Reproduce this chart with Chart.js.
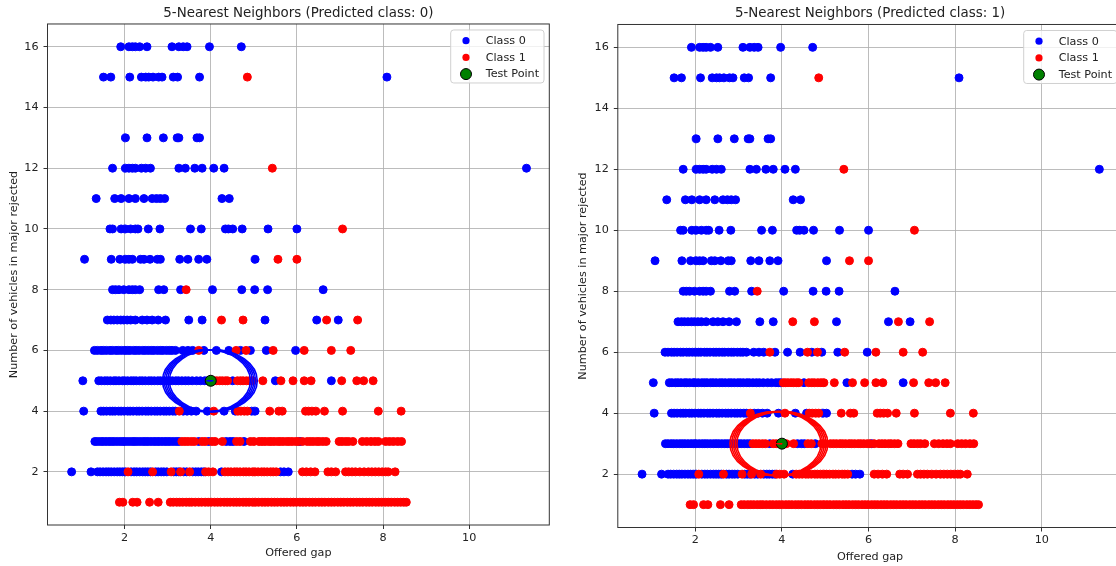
<!DOCTYPE html>
<html>
<head>
<meta charset="utf-8">
<script src="https://cdn.jsdelivr.net/npm/chart.js@4.4.1/dist/chart.umd.min.js"></script>
<style>
html, body { margin: 0; padding: 0; background: #fff; overflow: hidden; width: 1116px; height: 566px; }
.panel { position: absolute; top: 0; }
</style>
</head>
<body>
<div class="panel" style="left:0"><canvas id="leftChart" width="558" height="566"></canvas></div>
<div class="panel" style="left:570px"><canvas id="rightChart" width="562" height="566"></canvas></div>
<script>
// offered gap values of class 0 (blue), one array per "vehicles rejected" level
const class0Gap16 = [1.91, 2.10, 2.18, 2.25, 2.35, 2.52, 3.10, 3.26, 3.36, 3.45, 3.97, 4.71];
const class0Gap15 = [1.51, 1.68, 2.12, 2.39, 2.49, 2.56, 2.66, 2.79, 2.87, 3.13, 3.23, 3.74, 8.09];
const class0Gap13 = [2.02, 2.52, 2.90, 3.22, 3.26, 3.68, 3.74];
const class0Gap12 = [1.72, 2.02, 2.10, 2.18, 2.25, 2.39, 2.49, 2.60, 3.26, 3.41, 3.63, 3.80, 4.07, 4.31, 11.33];
const class0Gap11 = [1.34, 1.77, 1.92, 2.10, 2.25, 2.45, 2.64, 2.74, 2.83, 2.93, 4.26, 4.43];
const class0Gap10 = [1.66, 1.72, 1.92, 2.02, 2.14, 2.25, 2.31, 2.55, 2.82, 3.53, 3.78, 4.34, 4.41, 4.51, 4.73, 5.33, 6.00];
const class0Gap9 = [1.07, 1.69, 1.89, 2.02, 2.10, 2.18, 2.37, 2.45, 2.59, 2.76, 2.83, 3.28, 3.47, 3.72, 3.91, 5.03];
const class0Gap8 = [1.72, 1.79, 1.87, 1.98, 2.10, 2.18, 2.25, 2.35, 2.79, 2.91, 3.30, 4.04, 4.72, 5.02, 5.32, 6.61];
const class0Gap7 = [1.60, 1.68, 1.75, 1.83, 1.91, 1.98, 2.06, 2.14, 2.25, 2.41, 2.52, 2.64, 2.78, 2.95, 3.49, 3.80, 5.26, 6.46, 6.96];
const class0Gap6 = [1.30, 1.37, 1.45, 1.51, 1.58, 1.66, 1.72, 1.80, 1.86, 1.93, 2.01, 2.07, 2.13, 2.21, 2.27, 2.34, 2.42, 2.48,
  2.55, 2.62, 2.68, 2.76, 2.83, 2.89, 2.97, 3.04, 3.10, 3.18, 3.35, 3.47, 3.58, 3.84, 4.13, 4.42, 4.69, 4.92, 5.29, 5.97];
const class0Gap5 = [1.03, 1.40, 1.46, 1.54, 1.60, 1.67, 1.75, 1.80, 1.87, 1.95, 2.00, 2.07, 2.15, 2.21, 2.27, 2.35, 2.41, 2.48,
  2.56, 2.62, 2.69, 2.77, 2.83, 2.90, 2.98, 3.04, 3.11, 3.19, 3.25, 3.33, 3.41, 3.48, 3.57, 3.67, 3.76, 3.86, 3.92, 3.97,
  4.51, 5.50, 6.80];
const class0Gap4 = [1.05, 1.45, 1.51, 1.58, 1.66, 1.72, 1.78, 1.86, 1.92, 1.99, 2.07, 2.13, 2.20, 2.28, 2.34, 2.41, 2.49, 2.55,
  2.62, 2.70, 2.76, 2.83, 2.91, 2.97, 3.04, 3.12, 3.18, 3.36, 3.45, 3.55, 3.66, 3.92, 4.31, 4.57, 4.95, 5.03];
const class0Gap3 = [1.31, 1.37, 1.44, 1.50, 1.57, 1.64, 1.70, 1.76, 1.83, 1.90, 1.96, 2.02, 2.09, 2.16, 2.22, 2.28, 2.35, 2.42,
  2.48, 2.54, 2.61, 2.68, 2.74, 2.80, 2.87, 2.94, 3.00, 3.06, 3.13, 3.20, 3.26, 3.72, 3.95, 4.36, 4.45, 4.52, 4.77, 6.07];
const class0Gap2 = [0.77, 1.22, 1.37, 1.43, 1.50, 1.57, 1.63, 1.69, 1.76, 1.83, 1.89, 1.95, 2.02, 2.15, 2.22, 2.28, 2.35, 2.42,
  2.48, 2.54, 2.60, 2.72, 2.78, 2.85, 2.91, 2.98, 3.14, 3.20, 3.26, 3.37, 3.44, 3.58, 3.65, 3.71, 3.78, 3.84, 4.25,
  5.62, 5.70, 5.80];

// offered gap values of class 1 (red)
const class1Gap15 = [4.85];
const class1Gap12 = [5.43];
const class1Gap10 = [7.06];
const class1Gap9 = [5.56, 6.00];
const class1Gap8 = [3.43];
const class1Gap7 = [4.25, 4.75, 6.69, 7.41];
const class1Gap6 = [3.72, 4.59, 4.82, 5.45, 6.17, 6.80, 7.25];
const class1Gap5 = [4.03, 4.08, 4.14, 4.21, 4.27, 4.34, 4.39, 4.62, 4.69, 4.75, 4.83, 4.90, 4.97, 5.21, 5.63, 5.91, 6.17,
  6.33, 7.04, 7.39, 7.55, 7.77];
const class1Gap4 = [3.27, 4.07, 4.63, 4.70, 4.78, 4.85, 5.37, 5.58, 5.66, 6.20, 6.27, 6.35, 6.44, 6.64, 7.06, 7.89, 8.42];
const class1Gap3 = [3.33, 3.40, 3.47, 3.55, 3.62, 3.80, 3.87, 4.03, 4.10, 4.27, 4.60, 4.68, 4.92, 5.00, 5.12, 5.19, 5.26,
  5.34, 5.40, 5.47, 5.55, 5.61, 5.68, 5.76, 5.82, 5.89, 5.97, 6.03, 6.13, 6.24, 6.31, 6.38, 6.46, 6.52, 6.60, 6.68, 6.98,
  7.05, 7.13, 7.20, 7.30, 7.52, 7.62, 7.72, 7.81, 7.89, 8.06, 8.15, 8.24, 8.34, 8.43];
const class1Gap2 = [2.08, 2.65, 3.08, 3.30, 3.51, 3.88, 3.95, 4.05, 4.33, 4.40, 4.47, 4.55, 4.61, 4.68, 4.76, 4.82, 4.89,
  4.97, 5.03, 5.10, 5.18, 5.24, 5.31, 5.39, 5.45, 5.52, 6.13, 6.22, 6.32, 6.42, 6.72, 6.80, 6.90, 7.13, 7.20, 7.28, 7.36,
  7.46, 7.56, 7.66, 7.74, 7.82, 7.90, 7.98, 8.06, 8.12, 8.28];
const class1Gap1 = [1.88, 1.96, 2.19, 2.29, 2.58, 2.78, 3.06, 3.13, 3.21, 3.28, 3.35, 3.43, 3.50, 3.56, 3.64, 3.72, 3.79,
  3.87, 3.94, 4.01, 4.09, 4.16, 4.23, 4.31, 4.38, 4.45, 4.53, 4.60, 4.67, 4.75, 4.82, 4.89, 4.97, 5.04, 5.11, 5.19, 5.26,
  5.33, 5.41, 5.48, 5.55, 5.63, 5.70, 5.77, 5.85, 5.92, 5.99, 6.07, 6.14, 6.21, 6.29, 6.36, 6.43, 6.51, 6.58, 6.65, 6.73,
  6.80, 6.87, 6.95, 7.02, 7.09, 7.17, 7.24, 7.31, 7.39, 7.46, 7.53, 7.61, 7.68, 7.75, 7.83, 7.90, 7.97, 8.05, 8.12, 8.19,
  8.27, 8.34, 8.41, 8.48, 8.54];

const class0Rows = [[16, class0Gap16], [15, class0Gap15], [13, class0Gap13], [12, class0Gap12], [11, class0Gap11],
  [10, class0Gap10], [9, class0Gap9], [8, class0Gap8], [7, class0Gap7], [6, class0Gap6], [5, class0Gap5],
  [4, class0Gap4], [3, class0Gap3], [2, class0Gap2]];
const class1Rows = [[15, class1Gap15], [12, class1Gap12], [10, class1Gap10], [9, class1Gap9], [8, class1Gap8],
  [7, class1Gap7], [6, class1Gap6], [5, class1Gap5], [4, class1Gap4], [3, class1Gap3], [2, class1Gap2], [1, class1Gap1]];

// test points and their 5 nearest neighbours
const testLeft = [4, 5];
const neighborsLeftX = [3.90, 3.94, 3.98, 4.02, 4.06];
const neighborsLeftY = [5, 5, 5, 5, 5];
const testRight = [4, 3];
const neighborsRightX = [3.85, 3.89, 3.93, 3.97, 4.01];
const neighborsRightY = [3, 3, 3, 3, 3];

const xTickValues = [2, 4, 6, 8, 10];
const yTickValues = [2, 4, 6, 8, 10, 12, 14, 16];

const FONT = "'DejaVu Sans', sans-serif";
const TEXT = '#222';

function toPoints(rows) {
    let pts = [];
    rows.forEach(function (row) {
        row[1].forEach(function (gap) { pts.push({x: gap, y: row[0]}); });
    });
    return pts;
}

// circles round the neighbours, plot frame, title over the plot area, legend inside the plot
const knnPlugin = {
    id: 'knn',
    afterLayout(chart) {
        const a = chart.chartArea;
        chart.titleBlock.left = a.left;
        chart.titleBlock.right = a.right;
    },
    afterDatasetsDraw(chart, args, opts) {
        const {ctx, chartArea: a, scales: {x, y}} = chart;
        ctx.save();
        ctx.beginPath();
        ctx.rect(a.left, a.top, a.right - a.left, a.bottom - a.top);
        ctx.clip();
        ctx.strokeStyle = opts.color;
        ctx.lineWidth = 1.6;
        opts.nx.forEach(function (nx, i) {
            const cx = x.getPixelForValue(nx), cy = y.getPixelForValue(opts.ny[i]);
            const rx = x.getPixelForValue(nx + opts.radius) - cx;
            const ry = cy - y.getPixelForValue(opts.ny[i] + opts.radius);
            ctx.beginPath();
            ctx.ellipse(cx, cy, rx, ry, 0, 0, Math.PI * 2);
            ctx.stroke();
        });
        ctx.restore();

        ctx.save();
        ctx.strokeStyle = '#333';
        ctx.lineWidth = 1;
        ctx.strokeRect(a.left, a.top, a.right - a.left, a.bottom - a.top);
        ctx.restore();
    },
    afterDraw(chart) {
        const {ctx, chartArea: a} = chart;
        const items = chart.data.datasets.filter(d => d.legendRadius);
        const w = 93.3, h = 53;
        const bx = a.right - 5.3 - w, by = a.top + 6;
        ctx.save();
        ctx.beginPath();
        ctx.roundRect(bx, by, w, h, 3);
        ctx.fillStyle = 'rgba(255,255,255,0.8)';
        ctx.fill();
        ctx.strokeStyle = '#d0d0d0';
        ctx.lineWidth = 1;
        ctx.stroke();
        ctx.font = '11.2px ' + FONT;
        ctx.textBaseline = 'middle';
        items.forEach(function (d, i) {
            const cy = by + 10.7 + i * 16.7;
            ctx.beginPath();
            ctx.arc(bx + 15.3, cy, d.legendRadius, 0, Math.PI * 2);
            ctx.fillStyle = d.backgroundColor;
            ctx.fill();
            if (d.borderColor !== d.backgroundColor) {
                ctx.strokeStyle = d.borderColor;
                ctx.lineWidth = 1;
                ctx.stroke();
            }
            ctx.fillStyle = TEXT;
            ctx.fillText(d.label, bx + 35, cy + 0.5);
        });
        ctx.restore();
    }
};

function makeChart(canvasId, title, testPoint, nx, ny, radius, lineColor, layout) {
    const datasets = [
        {label: 'Class 0', data: toPoints(class0Rows), backgroundColor: '#0000ff', borderColor: '#0000ff',
            pointRadius: 4, borderWidth: 1, order: 3, legendRadius: 3.6},
        {label: 'Class 1', data: toPoints(class1Rows), backgroundColor: '#ff0000', borderColor: '#ff0000',
            pointRadius: 4, borderWidth: 1, order: 2, legendRadius: 3.6},
        {label: 'Test Point', data: [{x: testPoint[0], y: testPoint[1]}], backgroundColor: '#008000', borderColor: '#000',
            pointRadius: 5.5, borderWidth: 1, order: 1, legendRadius: 5.5}
    ];
    // lines from the test point to each neighbour
    nx.forEach(function (x, i) {
        datasets.push({label: '', data: [{x: testPoint[0], y: testPoint[1]}, {x: x, y: ny[i]}],
            showLine: true, pointRadius: 0, borderColor: lineColor, borderWidth: 1.3, order: 0});
    });

    return new Chart(document.getElementById(canvasId), {
        type: 'scatter',
        data: {datasets: datasets},
        plugins: [knnPlugin],
        options: {
            responsive: false,
            animation: false,
            layout: {padding: {left: 0, right: layout.padRight, top: 0, bottom: 0}},
            plugins: {
                legend: {display: false},
                tooltip: {enabled: false},
                title: {
                    display: true, text: title, color: TEXT,
                    font: {family: FONT, size: 13.4, weight: 'normal', lineHeight: 1.2},
                    padding: {top: layout.titleTop, bottom: layout.titleBottom}
                },
                knn: {nx: nx, ny: ny, radius: radius, color: lineColor}
            },
            scales: {
                x: {
                    type: 'linear', min: 0.21, max: 11.86,
                    afterBuildTicks: s => { s.ticks = xTickValues.map(v => ({value: v})); },
                    afterFit: s => { s.height = layout.xHeight; },
                    grid: {color: 'rgba(176,176,176,0.85)', lineWidth: 1, tickColor: '#333', tickLength: 4},
                    border: {display: false},
                    ticks: {color: TEXT, font: {family: FONT, size: 11.2}, padding: 2, maxRotation: 0},
                    title: {display: true, text: 'Offered gap', color: TEXT, font: {family: FONT, size: 11.2},
                        padding: {top: 0, bottom: layout.xTitlePad}}
                },
                y: {
                    type: 'linear', min: 0.25, max: 16.75,
                    afterBuildTicks: s => { s.ticks = yTickValues.map(v => ({value: v})); },
                    afterFit: s => { s.width = layout.yWidth; },
                    grid: {color: 'rgba(176,176,176,0.85)', lineWidth: 1, tickColor: '#333', tickLength: 4},
                    border: {display: false},
                    ticks: {color: TEXT, font: {family: FONT, size: 11.2}, padding: 5},
                    title: {display: true, text: 'Number of vehicles in major rejected', color: TEXT,
                        font: {family: FONT, size: 11.2}, padding: {top: layout.yTitlePad, bottom: 0}}
                }
            }
        }
    });
}

makeChart('leftChart', '5-Nearest Neighbors (Predicted class: 0)', testLeft, neighborsLeftX, neighborsLeftY, 1.02, '#0000ff',
    {padRight: 8.7, titleTop: 5.3, titleBottom: 2.6, xHeight: 41, xTitlePad: 6.3, yWidth: 47.5, yTitlePad: 7.3});
makeChart('rightChart', '5-Nearest Neighbors (Predicted class: 1)', testRight, neighborsRightX, neighborsRightY, 1.05, '#ff0000',
    {padRight: 9.7, titleTop: 5.0, titleBottom: 3.4, xHeight: 38.5, xTitlePad: 2.6, yWidth: 47.8, yTitlePad: 6.1});
</script>
</body>
</html>
